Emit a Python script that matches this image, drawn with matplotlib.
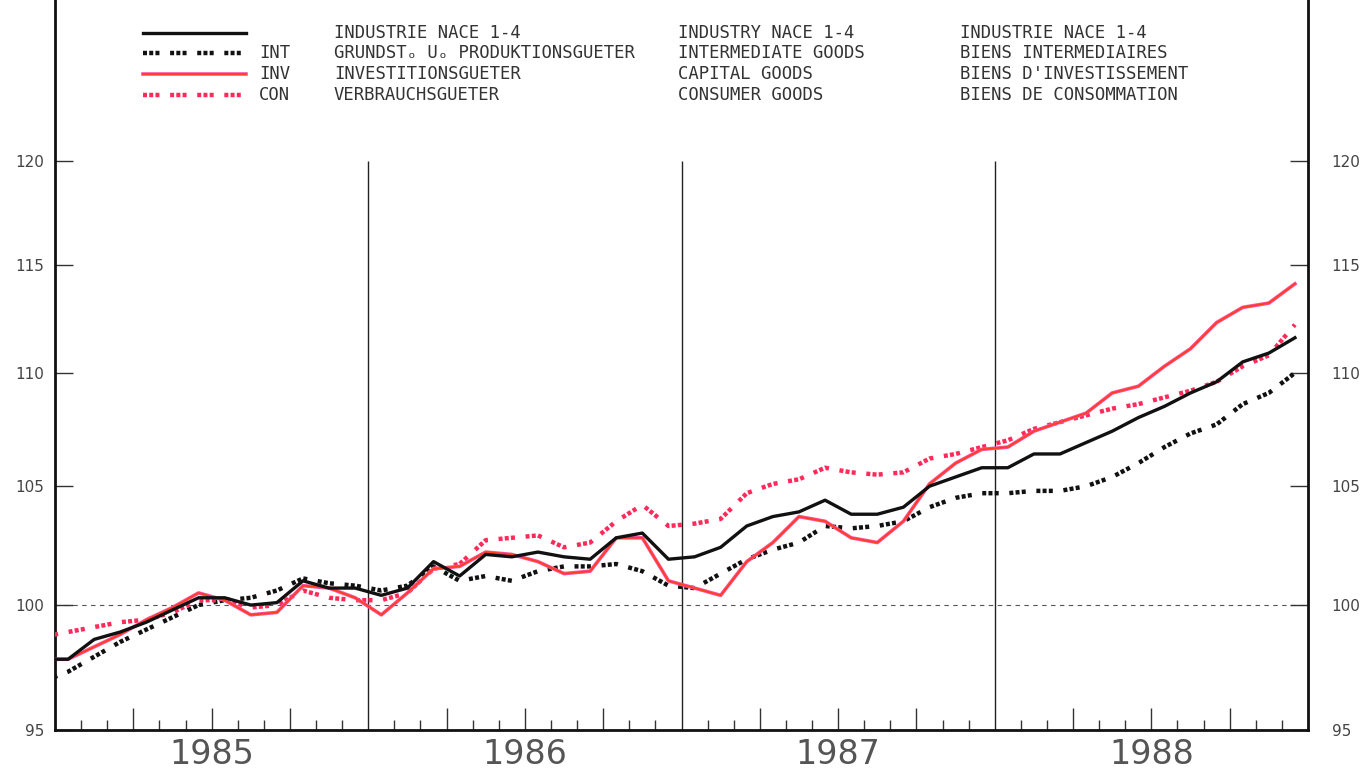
import numpy as np
import matplotlib
matplotlib.use("Agg")
import matplotlib.pyplot as plt
import matplotlib.transforms as mtransforms
from matplotlib.lines import Line2D

# ---- data (monthly index, Dec 1984 .. Dec 1988) ----
years = ["1985", "1986", "1987", "1988"]
ind = [97.8,
       97.8, 98.6, 98.9, 99.3, 99.8, 100.3, 100.3, 100.0, 100.1, 101.0, 100.7, 100.7,
       100.4, 100.7, 101.8, 101.2, 102.1, 102.0, 102.2, 102.0, 101.9, 102.8, 103.0, 101.9,
       102.0, 102.4, 103.3, 103.7, 103.9, 104.4, 103.8, 103.8, 104.1, 105.0, 105.4, 105.8,
       105.8, 106.4, 106.4, 106.9, 107.4, 108.0, 108.5, 109.1, 109.6, 110.5, 110.9, 111.6]
intm = [96.9,
        97.3, 97.9, 98.5, 99.0, 99.5, 100.0, 100.2, 100.3, 100.6, 101.1, 100.9, 100.8,
        100.6, 100.8, 101.6, 101.0, 101.2, 101.0, 101.4, 101.6, 101.6, 101.7, 101.4, 100.8,
        100.7, 101.3, 101.9, 102.3, 102.6, 103.3, 103.2, 103.3, 103.5, 104.1, 104.5, 104.7,
        104.7, 104.8, 104.8, 105.0, 105.4, 106.0, 106.7, 107.3, 107.7, 108.6, 109.1, 110.0]
inv = [97.8,
       97.8, 98.3, 98.8, 99.4, 99.9, 100.5, 100.2, 99.6, 99.7, 100.8, 100.7, 100.3,
       99.6, 100.5, 101.5, 101.6, 102.2, 102.1, 101.8, 101.3, 101.4, 102.8, 102.8, 101.0,
       100.7, 100.4, 101.8, 102.6, 103.7, 103.5, 102.8, 102.6, 103.5, 105.1, 106.0, 106.6,
       106.7, 107.4, 107.8, 108.2, 109.1, 109.4, 110.3, 111.1, 112.3, 113.0, 113.2, 114.1]
con = [98.7,
       98.9, 99.1, 99.3, 99.4, 99.7, 100.2, 100.2, 99.9, 100.0, 100.6, 100.3, 100.2,
       100.2, 100.5, 101.5, 101.7, 102.7, 102.8, 102.9, 102.4, 102.6, 103.5, 104.2, 103.3,
       103.4, 103.6, 104.7, 105.1, 105.3, 105.8, 105.6, 105.5, 105.6, 106.2, 106.4, 106.7,
       107.0, 107.5, 107.8, 108.1, 108.4, 108.6, 108.9, 109.2, 109.6, 110.3, 110.8, 112.2]
yticks = [95, 100, 105, 110, 115, 120]

legend_codes = ["", "INT", "INV", "CON"]
legend_de = ["INDUSTRIE NACE 1-4", "GRUNDST\u2092 U\u2092 PRODUKTIONSGUETER",
             "INVESTITIONSGUETER", "VERBRAUCHSGUETER"]
legend_en = ["INDUSTRY NACE 1-4", "INTERMEDIATE GOODS", "CAPITAL GOODS", "CONSUMER GOODS"]
legend_fr = ["INDUSTRIE NACE 1-4", "BIENS INTERMEDIAIRES",
             "BIENS D'INVESTISSEMENT", "BIENS DE CONSOMMATION"]

x = np.arange(-1, len(ind) - 1) + 0.5

fig = plt.figure(figsize=(13.7, 7.76), dpi=100)
ax = fig.add_axes([55 / 1370, 1 - 730 / 776, (1308 - 55) / 1370, 730 / 776])
ax.set_yscale("log")
ax.set_xlim(0, 48)
ax.set_ylim(95, 128.2)

dot_style = (0, (0.9, 0.5, 0.9, 0.5, 0.9, 2.4))
ax.plot(x, intm, color="#111111", lw=3.2, linestyle=dot_style, zorder=3)
ax.plot(x, con, color="#ff2a5a", lw=3.2, linestyle=dot_style, zorder=3)
ax.plot(x, inv, color="#ff4fa0", lw=2.6, zorder=4)
ax.plot(x, inv, color="#ff4020", lw=1.3, zorder=4)
ax.plot(x, ind, color="#111111", lw=2.4, zorder=5)

# reference line at 100 and year dividers
ax.axhline(100, color="#555555", lw=0.8, ls=(0, (4, 4)), zorder=1)
ax.vlines([12, 24, 36], 95, 120, color="#222222", lw=1.0, zorder=2)

# spines
for s in ["left", "right", "bottom"]:
    ax.spines[s].set_linewidth(2.0)
    ax.spines[s].set_color("#111111")
ax.spines["top"].set_visible(False)

# y ticks both sides
ax.yaxis.set_minor_locator(matplotlib.ticker.NullLocator())
ax.set_yticks(yticks)
ax.set_yticklabels([str(v) for v in yticks])
ax.tick_params(axis="y", which="major", direction="in", length=13, width=1.0,
               color="#333333", left=True, right=True, labelleft=True,
               labelright=True, labelsize=11, labelcolor="#444444", pad=8)
offset = mtransforms.ScaledTranslation(9 / 72, 0, fig.dpi_scale_trans)
for t in ax.yaxis.get_major_ticks():
    t.label2.set_transform(t.label2.get_transform() + offset)

# x ticks: months minor, quarters major
minor = [m for m in range(1, 48) if m % 3 != 0]
major = [m for m in range(3, 48, 3) if m % 12 != 0]
ax.set_xticks(major)
ax.set_xticks(minor, minor=True)
ax.set_xticklabels([])
ax.tick_params(axis="x", which="major", direction="in", length=16, width=1.0, color="#333333")
ax.tick_params(axis="x", which="minor", direction="in", length=7, width=1.0, color="#333333")

for i, yr in enumerate(years):
    ax.text(6 + 12 * i, -0.034, yr, transform=ax.get_xaxis_transform(),
            ha="center", va="center", fontsize=24, color="#555555")

# legend block
mono = "DejaVu Sans Mono"
fs = 12.4
rows_y = [33, 53, 74, 95]
styles = [dict(color="#111111", lw=2.4),
          dict(color="#111111", lw=3.2, linestyle=dot_style),
          None,
          dict(color="#ff2a5a", lw=3.2, linestyle=dot_style)]
for r, yy in enumerate(rows_y):
    fy = 1 - yy / 776
    if r == 2:
        fig.add_artist(Line2D([143 / 1370, 246 / 1370], [fy, fy], color="#ff4fa0", lw=2.6))
        fig.add_artist(Line2D([143 / 1370, 246 / 1370], [fy, fy], color="#ff4020", lw=1.3))
    else:
        fig.add_artist(Line2D([143 / 1370, 246 / 1370], [fy, fy], **styles[r]))
    if legend_codes[r]:
        fig.text(259 / 1370, fy, legend_codes[r], family=mono, fontsize=fs,
                 color="#333333", va="center", ha="left")
    fig.text(334 / 1370, fy, legend_de[r], family=mono, fontsize=fs,
             color="#333333", va="center", ha="left")
    fig.text(678 / 1370, fy, legend_en[r], family=mono, fontsize=fs,
             color="#333333", va="center", ha="left")
    fig.text(960 / 1370, fy, legend_fr[r], family=mono, fontsize=fs,
             color="#333333", va="center", ha="left")

fig.savefig("out.png", dpi=100, facecolor="white")
